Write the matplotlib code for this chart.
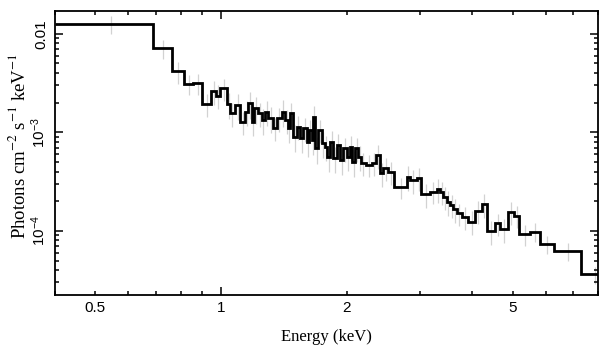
import numpy as np
import matplotlib
matplotlib.use("Agg")
import matplotlib.pyplot as plt

# Spectrum bins (keV) and unfolded flux (photons cm^-2 s^-1 keV^-1)
edges = [0.40, 0.688, 0.764, 0.817, 0.857, 0.900, 0.949, 0.973, 0.997, 1.034,
         1.051, 1.080, 1.111, 1.142, 1.163, 1.185, 1.202, 1.225, 1.252, 1.275,
         1.298, 1.335, 1.360, 1.398, 1.424, 1.450, 1.464, 1.486, 1.519, 1.547,
         1.575, 1.605, 1.628, 1.650, 1.665, 1.680, 1.711, 1.744, 1.776, 1.798,
         1.825, 1.859, 1.894, 1.929, 1.965, 2.002, 2.039, 2.065, 2.096, 2.134,
         2.166, 2.223, 2.298, 2.350, 2.406, 2.450, 2.519, 2.604, 2.788, 2.840,
         2.947, 3.017, 3.171, 3.291, 3.351, 3.413, 3.478, 3.542, 3.607, 3.675,
         3.778, 3.918, 4.066, 4.219, 4.337, 4.540, 4.667, 4.886, 5.043, 5.184,
         5.508, 5.821, 6.300, 7.300, 8.5]

flux = [0.01248, 0.00713, 0.00414, 0.00309, 0.00317, 0.00192, 0.00260, 0.00236,
        0.00280, 0.00193, 0.00156, 0.00189, 0.00128, 0.00162, 0.00197, 0.00128,
        0.00175, 0.00156, 0.00133, 0.00162, 0.00139, 0.00110, 0.00139, 0.00162,
        0.00133, 0.00110, 0.00156, 0.000902, 0.00114, 0.000869, 0.00110, 0.000803,
        0.00106, 0.000835, 0.00144, 0.000688, 0.00106, 0.000773, 0.000714, 0.000565,
        0.000803, 0.000545, 0.000743, 0.000523, 0.000688, 0.000565, 0.000714, 0.000503,
        0.000688, 0.000565, 0.000484, 0.000466, 0.000484, 0.000588, 0.000384, 0.000431,
        0.000398, 0.000278, 0.000354, 0.000328, 0.000341, 0.000236, 0.000251, 0.000264,
        0.000248, 0.000222, 0.000197, 0.000183, 0.000165, 0.000151, 0.000139, 0.000124,
        0.000160, 0.000186, 0.0000995, 0.000119, 0.000104, 0.000156, 0.000142, 0.0000928,
        0.0000979, 0.0000735, 0.0000628, 0.0000362]

# relative 1-sigma errors per bin
rel_err = [0.20, 0.22, 0.25, 0.22, 0.24, 0.26, 0.28, 0.27, 0.25, 0.30,
           0.28, 0.30, 0.27, 0.29, 0.30, 0.28, 0.30, 0.27, 0.29, 0.28,
           0.30, 0.26, 0.28, 0.30, 0.27, 0.29, 0.28, 0.30, 0.27, 0.29,
           0.28, 0.30, 0.27, 0.29, 0.28, 0.30, 0.27, 0.29, 0.28, 0.30,
           0.27, 0.29, 0.28, 0.30, 0.27, 0.29, 0.28, 0.30, 0.27, 0.29,
           0.26, 0.25, 0.26, 0.27, 0.28, 0.26, 0.27, 0.25, 0.28, 0.27,
           0.26, 0.27, 0.25, 0.27, 0.26, 0.27, 0.28, 0.26, 0.27, 0.25,
           0.26, 0.27, 0.26, 0.27, 0.28, 0.26, 0.27, 0.26, 0.25, 0.24,
           0.22, 0.20, 0.21, 0.20]

xtick_pos = [0.5, 1, 2, 5]
xtick_lab = ['0.5', '1', '2', '5']
ytick_pos = [1e-2, 1e-3, 1e-4]
ytick_lab = ['0.01', r'$10^{-3}$', r'$10^{-4}$']

plt.rcParams['font.family'] = ['Liberation Sans', 'DejaVu Sans']
plt.rcParams['mathtext.fontset'] = 'custom'
plt.rcParams['mathtext.rm'] = 'Liberation Sans'
plt.rcParams['mathtext.it'] = 'Liberation Sans:italic'
plt.rcParams['mathtext.bf'] = 'Liberation Sans:bold'

edges = np.array(edges)
flux = np.array(flux)
centers = 0.5 * (edges[:-1] + edges[1:])
yerr = flux * np.array(rel_err)

fig = plt.figure(figsize=(6.09, 3.57), dpi=100)
ax = fig.add_axes([0.0903, 0.1737, 0.8911, 0.7941])

ax.errorbar(centers, flux, yerr=yerr, fmt='none', ecolor='#d2d2d2',
            elinewidth=0.9, zorder=1)
ax.stairs(flux, edges, baseline=None, color='black', linewidth=2.0, zorder=2)

ax.set_xscale('log')
ax.set_yscale('log')

# x ticks: long tick at 1, short ones elsewhere, labels at 0.5 1 2 5
ax.set_xticks([1], ['1'])
minor_x = [0.4, 0.5, 0.6, 0.7, 0.8, 0.9, 2, 3, 4, 5, 6, 7, 8]
ax.set_xticks(minor_x, [xtick_lab[xtick_pos.index(v)] if v in xtick_pos else ''
                        for v in minor_x], minor=True)
ax.set_yticks(ytick_pos, ytick_lab)
minor_y = [m * d for d in [1e-5, 1e-4, 1e-3, 1e-2] for m in range(2, 10)]
ax.set_yticks(minor_y, minor=True)
ax.set_yticklabels([], minor=True)

ax.set_xlim(0.4, 8.0)
ax.set_ylim(2.24e-5, 0.0168)

ax.tick_params(which='both', direction='in', top=True, right=True,
               width=1.1, labelsize=11, color='black')
ax.tick_params(which='major', length=5.5)
ax.tick_params(which='minor', length=3)
ax.tick_params(axis='x', which='both', pad=4)
ax.tick_params(axis='y', which='both', pad=5)
for lbl in ax.get_yticklabels():
    lbl.set_rotation(90)
    lbl.set_va('center')
for s in ax.spines.values():
    s.set_linewidth(1.3)

ax.set_xlabel('Energy (keV)', family='Liberation Serif', fontsize=12)
ax.xaxis.label.set_va('center')
ax.xaxis.set_label_coords(0.5, -0.148)
ax.set_ylabel(r'Photons cm$^{-2}$ s$^{-1}$ keV$^{-1}$', family='Liberation Serif',
              fontsize=13.5, math_fontfamily='stix')
ax.yaxis.label.set_va('center')
ax.yaxis.set_label_coords(-0.068, 0.525)

fig.savefig('out.png', dpi=100)
